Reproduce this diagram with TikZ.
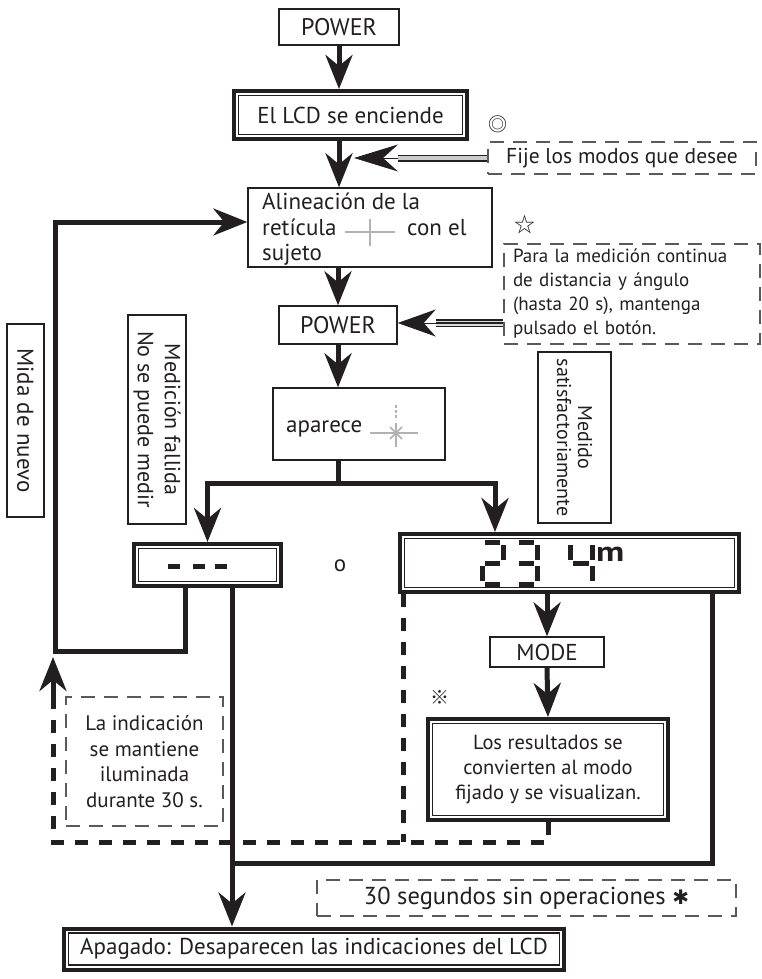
\documentclass[tikz,border=0pt]{standalone}
\usepackage{fontspec}
\setmainfont{PT Sans}
\newfontfamily\symf{DejaVu Sans}
\newfontfamily\cjk{Noto Sans CJK JP}
\usetikzlibrary{arrows.meta,calc}
\definecolor{ink}{HTML}{231F20}
\definecolor{dgray}{HTML}{5A5A5A}
\tikzset{
 txt/.style={font=\fontsize{23}{25}\selectfont, text=ink},
 box/.style={draw=ink, line width=1.4pt, inner sep=0pt, align=center, txt},
 dbox/.style={draw=ink, line width=4pt, inner sep=0pt, align=center, txt},
 dashbox/.style={draw=dgray, line width=1.4pt, dash pattern=on 14pt off 9pt, inner sep=0pt, align=center, txt},
 conn/.style={draw=ink, line width=5pt},
 arr/.style={conn, -{Stealth[length=34pt,width=27pt,inset=11pt]}},
 dconn/.style={draw=ink, line width=5pt, dash pattern=on 13pt off 11pt},
 seg/.style={draw=ink, line width=5pt},
 icon/.style={draw=gray!60, line width=1.5pt},
}
\newcommand\innerframe[1]{\draw[ink, line width=1.2pt] ([shift={(6.5pt,-6.5pt)}]#1.north west) rectangle ([shift={(-6.5pt,6.5pt)}]#1.south east);}
\begin{document}
\begin{tikzpicture}[x=1pt,y=-1pt]
\useasboundingbox[fill=white] (0,0) rectangle (762,979);

% boxes
\node[box, minimum width=120pt, minimum height=36pt, font=\fontsize{24}{25}\selectfont] (power1) at (339,27) {POWER};
\node[dbox, minimum width=233pt, minimum height=48pt] (lcd) at (350.5,115) {El LCD se enciende};
\innerframe{lcd}
\node[box, minimum width=244pt, minimum height=79pt] (alin) at (370,227.5) {};
\node[txt, anchor=base west, inner sep=0pt] (al1) at (262,209) {Alineación de la};
\node[txt, anchor=base west, inner sep=0pt] (al2) at (262,235) {retícula};
\node[txt, anchor=base west, inner sep=0pt] (al3) at (407,235) {con el};
\node[txt, anchor=base west, inner sep=0pt] (al4) at (262,260) {sujeto};
\draw[icon] (345,232) -- (395,232);
\draw[icon] (370,219) -- (370,246);

\node[box, minimum width=118pt, minimum height=38pt, font=\fontsize{24}{25}\selectfont] (power2) at (338,325) {POWER};
\node[box, minimum width=172pt, minimum height=72pt] (apar) at (359,424) {};
\node[txt, anchor=base west, inner sep=0pt] (apartxt) at (286,432) {aparece};
\draw[icon] (370,433) -- (418,433);
\draw[icon] (396,423) -- (396,447);
\draw[icon] (390,427) -- (402,439) (390,439) -- (402,427);
\draw[icon, dash pattern=on 3pt off 2pt] (396,405) -- (396,420);

\node[dbox, minimum width=147pt, minimum height=42pt] (fail) at (207.5,565) {};
\innerframe{fail}
\draw[seg] (168,566) -- (180,566) (193,566) -- (205,566) (215,566) -- (227,566);

\node[dbox, minimum width=339pt, minimum height=58pt] (ok) at (569.5,563) {};
\innerframe{ok}
% 7-segment digits 2 3 4
\draw[seg] (485,542) -- (500,542) (503,545) -- (503,560) (485,563) -- (500,563)
           (482,566) -- (482,581) (485,584) -- (500,584);
\draw[seg] (519,542) -- (534,542) (537,545) -- (537,560) (519,563) -- (534,563)
           (537,566) -- (537,581) (519,584) -- (534,584);
\draw[seg] (570,545) -- (570,560) (573,563) -- (589,563) (592,545) -- (592,560)
           (592,566) -- (592,581);
\node[text=ink, font=\bfseries\fontsize{28}{28}\selectfont, anchor=base west, inner sep=0pt] (munit) at (596,561) {\scalebox{1.25}[1]{m}};

\node[box, minimum width=114pt, minimum height=30pt] (mode) at (547,652) {MODE};
\node[dbox, minimum width=240pt, minimum height=101pt, font=\fontsize{20.5}{25}\selectfont] (res) at (548,769.5) {Los resultados se\\convierten al modo\\fijado y se visualizan.};
\innerframe{res}

\node[box, rotate=-90, minimum width=193pt, minimum height=37pt] (mida) at (25.5,420.5) {Mida de nuevo};
\node[box, rotate=-90, minimum width=209pt, minimum height=58pt, font=\fontsize{22}{27}\selectfont] (medf) at (157,419.5) {Medición fallida\\No se puede medir};
\node[box, rotate=-90, minimum width=171pt, minimum height=73pt, font=\fontsize{20}{21}\selectfont] (meds) at (574.5,437.5) {Medido\\satisfactoriamente};

\node[dashbox, minimum width=268pt, minimum height=32pt, font=\fontsize{21.5}{24}\selectfont] (fije) at (622,158) {Fije los modos que desee};
\node[dashbox, minimum width=256pt, minimum height=100pt, align=left, text width=238pt, font=\fontsize{19}{24}\selectfont] (para) at (632,294) {Para la medición continua\\de distancia y ángulo\\(hasta 20 s), mantenga\\pulsado el botón.};
\node[dashbox, minimum width=157pt, minimum height=129pt, font=\fontsize{21}{25.5}\selectfont] (ind) at (144.5,761.5) {La indicación\\se mantiene\\iluminada\\durante 30 s.};
\node[dashbox, minimum width=419pt, minimum height=36pt, font=\fontsize{24.5}{25}\selectfont] (seg) at (526.5,898) {30 segundos sin operaciones {\symf\fontsize{20}{20}\selectfont ✱}};
\node[dbox, minimum width=500pt, minimum height=41pt, font=\fontsize{23}{25}\selectfont] (off) at (314,949) {Apagado: Desaparecen las indicaciones del LCD};
\innerframe{off}

% symbols
\node[text=ink, font=\cjk\fontsize{19}{19}\selectfont] (sym1) at (498,124) {◎};
\node[text=ink, font=\cjk\fontsize{21}{21}\selectfont] (sym2) at (525,225) {☆};
\node[text=ink, font=\cjk\fontsize{19}{19}\selectfont] (sym3) at (440,697) {※};
\node[txt] (orr) at (340,566) {o};

% main arrows
\draw[arr] (power1.south) -- (power1.south |- lcd.north);
\draw[arr] (power1 |- lcd.south) -- (power1 |- alin.north);
\draw[arr] (power2 |- alin.south) -- (power2.north);
\draw[arr] (power2.south) -- (power2.south |- apar.north);

\coordinate (split) at (338,483);
\coordinate (sr) at (495,483);
\draw[conn] (power2 |- apar.south) -- (split);
\draw[arr] (split) -| (fail.north);
\draw[arr] (split) -- (sr) -- (sr |- ok.north);

\draw[arr] (ok.south -| mode) -- (mode.north);
\draw[arr] (mode.south) -- (res.north);

% retry loop
\coordinate (m1) at (185,651);
\coordinate (mc1) at (55,651);
\coordinate (mc2) at (55,222);
\draw[arr] (m1 |- fail.south) -- (m1) -- (mc1) -- (mc2) -- (mc2 -| alin.west);

% off path
\coordinate (c232) at (232,863);
\coordinate (c712) at (712,863);
\draw[arr] (c232 |- fail.south) -- (c232 |- off.north);
\draw[conn] (c712 |- ok.south) -- (c712) -- (c232);

% dashed path
\coordinate (d1) at (548,842);
\coordinate (d2) at (53,842);
\coordinate (d3) at (53,697);
\coordinate (d4) at (53,657);
\coordinate (d5) at (403,842);
\draw[dconn] (res.south) -- (d1) -- (d2) -- (d3);
\draw[dconn] (d5 |- ok.south) -- (d5);
\draw[arr] (d3) -- (d4);

% hollow side arrows
\coordinate (fijeb) at (398,158);
\coordinate (fijetip) at (354,158);
\draw[ink, line width=7pt] (fije.west) -- (fijeb);
\draw[gray!40, line width=3.6pt] (fije.west) -- (fijeb);
\draw[ink, line width=1pt, -{Stealth[length=44pt,width=27pt,inset=15pt]}] (fijeb) -- (fijetip);

\coordinate (parab) at (436,323);
\draw[ink, line width=8pt] (para.west |- parab) -- (parab);
\draw[gray!30, line width=1.4pt] ([yshift=1.8pt]para.west |- parab) -- ([yshift=1.8pt]parab);
\draw[gray!30, line width=1.4pt] ([yshift=-1.8pt]para.west |- parab) -- ([yshift=-1.8pt]parab);
\draw[ink, line width=1pt, -{Stealth[length=38pt,width=27pt,inset=12pt]}] (parab) -- (power2.east |- parab);
\end{tikzpicture}
\end{document}
